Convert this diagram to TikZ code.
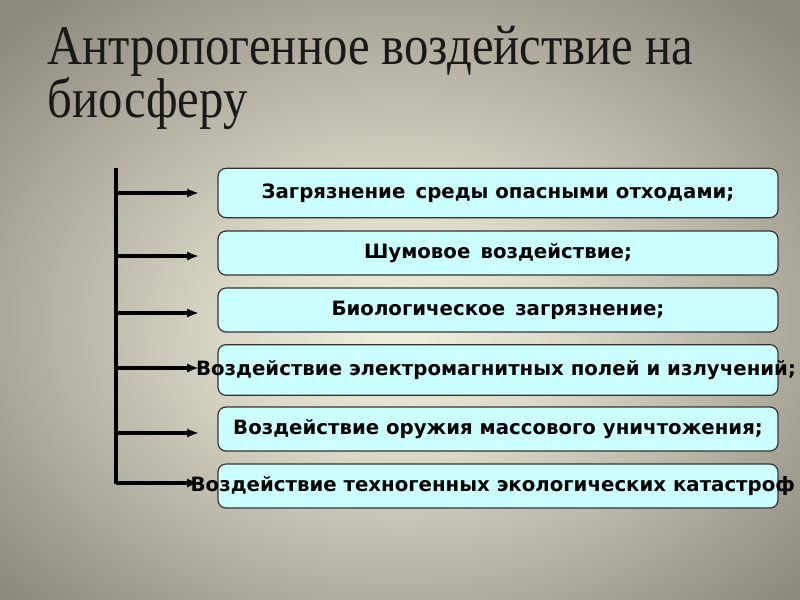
\documentclass[tikz,border=0pt]{standalone}
\usepackage{fontspec}
\setmainfont{DejaVu Sans}
\newfontfamily\titlefont[FakeStretch=0.87]{Liberation Serif}
\usetikzlibrary{arrows.meta,positioning}
\definecolor{bgin}{HTML}{F2EEDC}
\definecolor{bgout}{HTML}{8C897D}
\definecolor{boxfill}{HTML}{CCFFFF}
\pgfdeclareradialshading{bgshade}{\pgfpoint{0bp}{-3bp}}{color(0bp)=(bgin); color(10bp)=(bgin!80!bgout); color(34bp)=(bgout); color(50bp)=(bgout)}
\tikzset{
  item/.style={draw=black!80,fill=boxfill,rounded corners=6,line width=0.9pt,minimum width=420pt,minimum height=33pt},
  itemtext/.style={font=\bfseries\fontsize{14.8}{18}\selectfont},
  arr/.style={line width=2.6pt,-{Latex[length=9pt,width=7pt]}}
}
\begin{document}
\begin{tikzpicture}[x=0.75pt,y=-0.75pt]
\shade[shading=bgshade] (0,0) rectangle (800,600);
\useasboundingbox (0,0) rectangle (800,600);
\node[anchor=north west,align=left,font=\titlefont\fontsize{42}{39}\selectfont,text=black!90] (title) at (43,21)
  {Антропогенное воздействие на\\биосферу};
% boxes
\node[item,minimum height=37pt] (b1) at (498,193) {};
\node[item] (b2) at (498,253) {};
\node[item] (b3) at (498,310) {};
\node[item,minimum height=38pt] (b4) at (498,370) {};
\node[item] (b5) at (498,429) {};
\node[item] (b6) at (498,486) {};
\node[itemtext] (t1) at (b1) {Загрязнение\, среды опасными отходами;};
\node[itemtext] (t2) at (b2) {Шумовое\, воздействие;};
\node[itemtext] (t3) at (b3) {Биологическое\, загрязнение;};
\node[itemtext] (t4) at (496,370) {Воздействие электромагнитных полей и излучений;};
\node[itemtext] (t5) at (b5) {Воздействие оружия массового уничтожения;};
\node[itemtext,anchor=west] (t6) at (186,486) {Воздействие техногенных экологических катастроф};
% spine
\coordinate (top) at (116,168);
\coordinate (bot) at (116,484);
\draw[line width=2.6pt] (top) -- (bot);
\foreach \i/\y in {1/193,2/256,3/313,4/368,5/433,6/483}
  \draw[arr] (116,\y) -- (199,\y);
\end{tikzpicture}
\end{document}
